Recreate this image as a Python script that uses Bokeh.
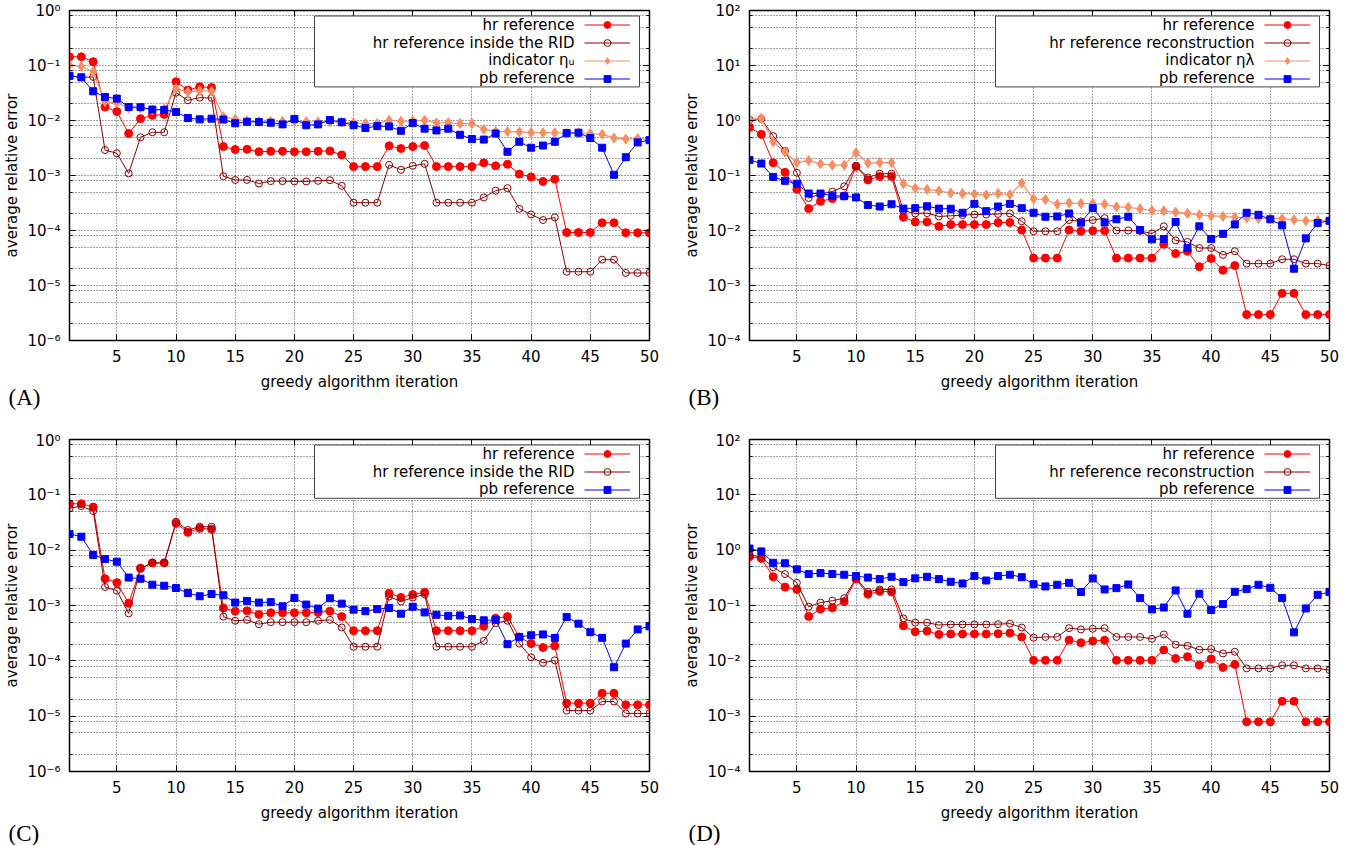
from bokeh.plotting import figure
from bokeh.models import (Range1d, FixedTicker, CustomJSTickFormatter, LogAxis,
                          LinearAxis, Label, Legend, LegendItem, BoxAnnotation, Title)
from bokeh.core.properties import value
from bokeh.layouts import column, row
from bokeh.embed import file_html
from bokeh.resources import INLINE

iterations = list(range(1, 51))
x_ticks = [5, 10, 15, 20, 25, 30, 35, 40, 45, 50]

# ---------------- Panel A ----------------
A_hr = [0.144, 0.144, 0.117, 0.0176, 0.0145, 0.0058, 0.0108, 0.0124, 0.0129, 0.0507,
        0.0358, 0.041, 0.0397, 0.00336, 0.00296, 0.0030, 0.0027, 0.00276, 0.00276, 0.0027,
        0.0027, 0.00276, 0.0028, 0.00237, 0.00145, 0.00145, 0.00145, 0.00346, 0.0031, 0.00336,
        0.0035, 0.00145, 0.00145, 0.00145, 0.00145, 0.0017, 0.0015, 0.0016, 0.00106, 0.00094,
        0.00078, 0.00086, 9.2e-5, 9.2e-5, 9.2e-5, 1.38e-4, 1.38e-4, 9.1e-5, 9.1e-5, 9.1e-5]
A_rid = [0.0645, 0.0608, 0.062, 0.0029, 0.00254, 0.00109, 0.00496, 0.0061, 0.0061, 0.032,
         0.0233, 0.026, 0.0257, 0.00097, 0.00083, 0.00083, 0.000715, 0.00079, 0.00079, 0.00078,
         0.00078, 0.0008, 0.00082, 0.00065, 0.00032, 0.00032, 0.00032, 0.00156, 0.00127, 0.0015,
         0.00163, 0.00032, 0.00032, 0.00032, 0.00032, 0.0004, 0.00053, 0.00059, 0.000248, 0.000196,
         0.000155, 0.000173, 1.78e-5, 1.78e-5, 1.78e-5, 2.95e-5, 2.95e-5, 1.69e-5, 1.69e-5, 1.69e-5]
A_ind = [0.102, 0.096, 0.077, 0.022, 0.021, 0.017, 0.017, 0.0155, 0.016, 0.038,
         0.033, 0.035, 0.034, 0.0117, 0.0105, 0.0098, 0.0096, 0.0096, 0.0097, 0.0097,
         0.0095, 0.0094, 0.0095, 0.0093, 0.0091, 0.0088, 0.0088, 0.0101, 0.0097, 0.0098,
         0.0101, 0.0091, 0.0091, 0.0088, 0.0088, 0.0069, 0.0063, 0.0063, 0.0062, 0.006,
         0.006, 0.006, 0.0058, 0.006, 0.0058, 0.0056, 0.0048, 0.0046, 0.0047, 0.0046]
A_pb = [0.065, 0.061, 0.034, 0.0267, 0.025, 0.0176, 0.0175, 0.0158, 0.0156, 0.0143,
        0.0111, 0.0105, 0.0108, 0.0104, 0.0089, 0.0095, 0.0094, 0.0091, 0.0085, 0.0107,
        0.0082, 0.0085, 0.0102, 0.0093, 0.0082, 0.0073, 0.0079, 0.0078, 0.0065, 0.009,
        0.0071, 0.0066, 0.0071, 0.0055, 0.0046, 0.0045, 0.0058, 0.0027, 0.0041, 0.0032,
        0.0035, 0.0041, 0.0059, 0.006, 0.0048, 0.0032, 0.00103, 0.00215, 0.004, 0.0044]

# ---------------- Panel B ----------------
B_hr = [0.75, 0.56, 0.17, 0.114, 0.056, 0.025, 0.034, 0.038, 0.0425, 0.146,
        0.083, 0.096, 0.096, 0.0175, 0.0143, 0.0143, 0.0119, 0.0128, 0.0128, 0.0128,
        0.0128, 0.0139, 0.014, 0.0102, 0.00315, 0.00315, 0.00315, 0.0102, 0.0097, 0.0099,
        0.0099, 0.00315, 0.00315, 0.00315, 0.00315, 0.0056, 0.0038, 0.0042, 0.0022, 0.0031,
        0.0019, 0.0023, 0.000296, 0.000296, 0.000296, 0.00072, 0.00072, 0.000296, 0.000296, 0.000296]
B_rec = [1.04, 1.07, 0.52, 0.28, 0.112, 0.039, 0.046, 0.051, 0.0636, 0.15,
         0.092, 0.108, 0.108, 0.023, 0.0204, 0.0207, 0.018, 0.0185, 0.019, 0.0195,
         0.0195, 0.02, 0.0204, 0.0147, 0.0097, 0.0097, 0.0097, 0.0155, 0.0147, 0.0155,
         0.0168, 0.01, 0.01, 0.0098, 0.0088, 0.0119, 0.0066, 0.0062, 0.0048, 0.0048,
         0.0036, 0.0042, 0.0025, 0.0025, 0.0025, 0.003, 0.003, 0.0025, 0.0025, 0.0023]
B_ind = [1.04, 1.09, 0.41, 0.265, 0.172, 0.187, 0.163, 0.154, 0.154, 0.26,
         0.168, 0.172, 0.172, 0.071, 0.0585, 0.056, 0.0524, 0.048, 0.047, 0.046,
         0.0444, 0.047, 0.045, 0.073, 0.0376, 0.0366, 0.030, 0.0318, 0.031, 0.031,
         0.030, 0.0269, 0.0265, 0.0248, 0.0231, 0.0228, 0.0216, 0.0204, 0.0193, 0.0185,
         0.018, 0.0173, 0.017, 0.0166, 0.0164, 0.0164, 0.0157, 0.015, 0.0152, 0.015]
B_pb = [0.192, 0.165, 0.094, 0.08, 0.071, 0.047, 0.047, 0.043, 0.042, 0.040,
        0.029, 0.0273, 0.030, 0.025, 0.0255, 0.0276, 0.025, 0.0249, 0.021, 0.0305,
        0.0225, 0.0273, 0.0305, 0.0255, 0.021, 0.0178, 0.018, 0.0204, 0.0139, 0.0255,
        0.014, 0.016, 0.0178, 0.0102, 0.0069, 0.007, 0.0143, 0.0048, 0.0119, 0.0070,
        0.0087, 0.0129, 0.021, 0.0193, 0.016, 0.0124, 0.00202, 0.0072, 0.0137, 0.015]

# ---------------- Panel C ----------------
C_hr = [0.069, 0.069, 0.060, 0.00305, 0.00259, 0.0011, 0.0047, 0.0059, 0.0059, 0.0305,
        0.021, 0.0248, 0.024, 0.0009, 0.00079, 0.0008, 0.00069, 0.00074, 0.00074, 0.00074,
        0.00074, 0.00075, 0.00079, 0.00063, 0.00035, 0.00035, 0.00035, 0.00166, 0.0014, 0.00158,
        0.00173, 0.00035, 0.00035, 0.00035, 0.00035, 0.00042, 0.00059, 0.00063, 0.00027, 0.000205,
        0.000174, 0.000186, 1.72e-5, 1.72e-5, 1.72e-5, 2.6e-5, 2.6e-5, 1.6e-5, 1.6e-5, 1.6e-5]
C_rid = [0.057, 0.0626, 0.051, 0.00216, 0.00186, 0.00072, 0.0047, 0.0059, 0.0059, 0.0327,
         0.0231, 0.0265, 0.0265, 0.00063, 0.00053, 0.00055, 0.00046, 0.0005, 0.0005, 0.0005,
         0.0005, 0.00053, 0.00055, 0.0004, 0.00018, 0.00018, 0.00018, 0.00145, 0.00118, 0.00139,
         0.00159, 0.00018, 0.00018, 0.00018, 0.00018, 0.00023, 0.00048, 0.00053, 0.000205, 0.000116,
         0.000092, 0.000102, 1.26e-5, 1.26e-5, 1.26e-5, 1.84e-5, 1.84e-5, 1.12e-5, 1.12e-5, 1.12e-5]
C_pb = [0.0196, 0.0175, 0.0082, 0.0069, 0.0062, 0.0032, 0.00305, 0.00238, 0.00228, 0.00207,
        0.00168, 0.00147, 0.00161, 0.00153, 0.00113, 0.00121, 0.00113, 0.00115, 0.00097, 0.00137,
        0.00104, 0.00088, 0.00135, 0.00108, 0.00084, 0.00079, 0.00086, 0.0009, 0.00071, 0.00095,
        0.00075, 0.00068, 0.00065, 0.00066, 0.00057, 0.00054, 0.00055, 0.0002, 0.00027, 0.00029,
        0.0003, 0.00026, 0.00062, 0.00047, 0.00033, 0.00026, 7.66e-5, 0.000205, 0.00037, 0.00042]

# ---------------- Panel D ----------------
D_hr = [0.76, 0.71, 0.33, 0.215, 0.195, 0.0635, 0.086, 0.091, 0.117, 0.30,
        0.16, 0.18, 0.176, 0.043, 0.0336, 0.0345, 0.030, 0.0305, 0.0305, 0.0305,
        0.0305, 0.031, 0.0318, 0.027, 0.0102, 0.0102, 0.0102, 0.0237, 0.0212, 0.0228,
        0.0235, 0.0102, 0.0102, 0.0102, 0.0102, 0.0157, 0.011, 0.0119, 0.0084, 0.0108,
        0.0076, 0.0086, 0.00079, 0.00079, 0.00079, 0.00186, 0.00186, 0.00079, 0.00079, 0.00079]
D_rec = [0.82, 0.75, 0.49, 0.37, 0.257, 0.095, 0.113, 0.122, 0.136, 0.31,
         0.177, 0.195, 0.195, 0.0585, 0.049, 0.049, 0.0443, 0.0455, 0.0455, 0.0455,
         0.0455, 0.046, 0.047, 0.040, 0.0262, 0.027, 0.027, 0.039, 0.037, 0.038,
         0.039, 0.027, 0.027, 0.027, 0.025, 0.030, 0.0196, 0.0187, 0.0158, 0.0163,
         0.0136, 0.0146, 0.0073, 0.0073, 0.0073, 0.0083, 0.0083, 0.0073, 0.0073, 0.0068]
D_pb = [1.07, 0.95, 0.59, 0.58, 0.45, 0.37, 0.385, 0.37, 0.36, 0.34,
        0.32, 0.30, 0.33, 0.264, 0.31, 0.33, 0.30, 0.268, 0.25, 0.34,
        0.283, 0.34, 0.36, 0.325, 0.243, 0.221, 0.237, 0.257, 0.175, 0.308,
        0.195, 0.206, 0.24, 0.136, 0.085, 0.092, 0.187, 0.071, 0.163, 0.083,
        0.106, 0.177, 0.198, 0.237, 0.209, 0.136, 0.0327, 0.0885, 0.156, 0.175]

FONT = "DejaVu Sans"
FS = "15px"
RED = "#ff0000"
DARKRED = "#8b0000"
SALMON = "#f98d62"
BLUE = "#0000ff"

SUP_JS = """
const sup = {"-":"\u207b","0":"\u2070","1":"\u00b9","2":"\u00b2","3":"\u00b3",
             "4":"\u2074","5":"\u2075","6":"\u2076","7":"\u2077","8":"\u2078","9":"\u2079"};
const e = Math.round(Math.log10(tick));
return "10" + String(e).split("").map(c => sup[c]).join("");
"""

FRAME_W = 580


def make_panel(series, ymin_exp, ymax_exp, tag, frame_h, left, right, top, bottom,
               box_left, title_standoff):
    p = figure(frame_width=FRAME_W, frame_height=frame_h, y_axis_type="log",
               x_range=Range1d(1, 50), y_range=Range1d(10.0 ** ymin_exp, 10.0 ** ymax_exp),
               output_backend="svg", toolbar_location=None,
               min_border_left=left, min_border_right=right,
               min_border_top=top, min_border_bottom=bottom,
               background_fill_color="white", border_fill_color="white")
    p.outline_line_color = "black"
    p.outline_line_width = 1.5

    majors = [10.0 ** e for e in range(ymin_exp, ymax_exp + 1)]
    minors = []
    for e in range(ymin_exp, ymax_exp):
        for m in (2, 5, 8):
            minors.append(m * 10.0 ** e)
    yt = FixedTicker(ticks=majors, minor_ticks=minors)
    xt = FixedTicker(ticks=x_ticks, minor_ticks=[])

    p.yaxis.ticker = yt
    p.xaxis.ticker = xt
    p.yaxis.formatter = CustomJSTickFormatter(code=SUP_JS)
    for ax in (p.xaxis[0], p.yaxis[0]):
        ax.major_tick_in = 6
        ax.major_tick_out = 0
        ax.minor_tick_in = 3
        ax.minor_tick_out = 0
        ax.axis_line_color = "black"
        ax.major_tick_line_color = "black"
        ax.minor_tick_line_color = "black"
        ax.major_label_text_font = FONT
        ax.major_label_text_font_size = FS
        ax.major_label_text_color = "black"
        ax.axis_label_text_font = FONT
        ax.axis_label_text_font_size = FS
        ax.axis_label_text_font_style = "normal"
        ax.axis_label_text_color = "black"
    p.xaxis.axis_label = "greedy algorithm iteration"
    p.yaxis.axis_label = "average relative error"
    p.xaxis.major_label_standoff = 9
    p.xaxis.axis_label_standoff = 8
    p.yaxis.major_label_standoff = 9
    p.yaxis.axis_label_standoff = 3

    # mirrored tick axes (no labels)
    ra = LogAxis(ticker=yt, formatter=CustomJSTickFormatter(code='return "";'),
                 major_tick_in=6, major_tick_out=0,
                 minor_tick_in=3, minor_tick_out=0, major_label_standoff=0,
                 axis_line_color="black")
    p.add_layout(ra, "right")
    ta = LinearAxis(ticker=xt, formatter=CustomJSTickFormatter(code='return "";'),
                    major_tick_in=6, major_tick_out=0,
                    minor_tick_in=0, minor_tick_out=0, major_label_standoff=0,
                    axis_line_color="black")
    p.add_layout(ta, "above")

    for g in (p.xgrid[0], p.ygrid[0]):
        g.grid_line_color = "#222222"
        g.grid_line_dash = "1 2"
        g.grid_line_width = 1
        g.grid_line_alpha = 0.85
    p.ygrid.minor_grid_line_color = "#222222"
    p.ygrid.minor_grid_line_dash = "1 2"
    p.ygrid.minor_grid_line_alpha = 0.85

    items = []
    labels = []
    for label, vals, kind in series:
        if kind == "hr":
            l = p.line(iterations, vals, line_color=RED, line_width=1)
            s = p.scatter(iterations, vals, marker="circle", size=8, fill_color=RED, line_color=RED)
        elif kind == "rid":
            l = p.line(iterations, vals, line_color=DARKRED, line_width=1)
            s = p.scatter(iterations, vals, marker="circle", size=7, fill_color="white",
                          fill_alpha=0.0, line_color=DARKRED, line_width=1)
        elif kind == "ind":
            l = p.line(iterations, vals, line_color=SALMON, line_width=1.2)
            s = p.scatter(iterations, vals, marker="diamond", size=10, fill_color=SALMON,
                          line_color=SALMON)
        else:
            l = p.line(iterations, vals, line_color=BLUE, line_width=1)
            s = p.scatter(iterations, vals, marker="square", size=7, fill_color=BLUE, line_color=BLUE)
        items.append(LegendItem(label=value(""), renderers=[l, s]))
        labels.append(label)

    # legend frame (gnuplot style: text right-aligned, sample on the right)
    n = len(series)
    pitch = 17.6
    box_top = 5.5
    box_h = pitch * n + 0.5
    p.add_layout(BoxAnnotation(left=box_left, right=570, top=frame_h - box_top,
                               bottom=frame_h - box_top - box_h,
                               left_units="screen", right_units="screen",
                               top_units="screen", bottom_units="screen",
                               fill_color="white", fill_alpha=1.0,
                               line_color="#444444", line_width=1, line_alpha=1.0))

    leg = Legend(items=items, location="top_right")
    leg.glyph_width = 46
    leg.glyph_height = 17
    leg.label_height = 17
    leg.label_width = 13
    leg.label_standoff = 0
    leg.spacing = 1
    leg.padding = 0
    leg.margin = 6
    leg.border_line_color = None
    leg.background_fill_alpha = 0.0
    leg.label_text_font_size = FS
    p.add_layout(leg)

    for i, txt in enumerate(labels):
        p.add_layout(Label(x=FRAME_W - 75, y=frame_h - (box_top + 9 + pitch * i),
                           x_units="screen", y_units="screen", text=txt,
                           text_font=FONT, text_font_size=FS, text_color="black",
                           text_align="right", text_baseline="middle"))

    p.add_layout(Title(text=tag, align="left", offset=-61, standoff=title_standoff,
                       text_font="Liberation Serif", text_font_size="23px",
                       text_font_style="normal", text_color="black"), "below")
    return p


pA = make_panel([("hr reference", A_hr, "hr"),
                 ("hr reference inside the RID", A_rid, "rid"),
                 ("indicator η\u1d64", A_ind, "ind"),
                 ("pb reference", A_pb, "pb")],
                -6, 0, "(A)", 330, 68, 31, 10, 91, 245, -22)
pB = make_panel([("hr reference", B_hr, "hr"),
                 ("hr reference reconstruction", B_rec, "rid"),
                 ("indicator ηλ", B_ind, "ind"),
                 ("pb reference", B_pb, "pb")],
                -4, 2, "(B)", 330, 68, 39, 10, 91, 246, -22)
pC = make_panel([("hr reference", C_hr, "hr"),
                 ("hr reference inside the RID", C_rid, "rid"),
                 ("pb reference", C_pb, "pb")],
                -6, 0, "(C)", 332, 68, 31, 8, 74, 245, -12)
pD = make_panel([("hr reference", D_hr, "hr"),
                 ("hr reference reconstruction", D_rec, "rid"),
                 ("pb reference", D_pb, "pb")],
                -4, 2, "(D)", 332, 68, 39, 8, 74, 246, -12)

layout = column(row(pA, pB), row(pC, pD))
open("out.html", "w").write(file_html(layout, INLINE))
